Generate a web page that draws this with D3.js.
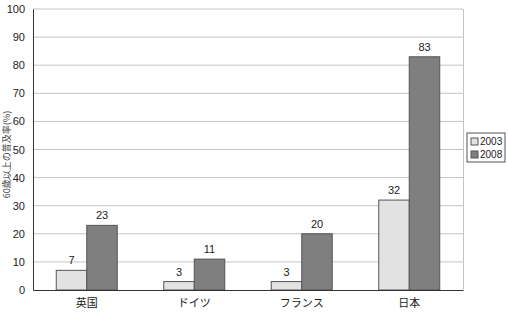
<!DOCTYPE html>
<html>
<head>
<meta charset="utf-8">
<script src="https://cdn.jsdelivr.net/npm/d3@7"></script>
<style>
  body { margin: 0; background: #fff; }
  text { font-family: "Liberation Sans", "Noto Sans CJK JP", sans-serif; }
</style>
</head>
<body>
<div id="chart"></div>
<script>
const categories = ["英国", "ドイツ", "フランス", "日本"];
const seriesNames = ["2003", "2008"];
const values2003 = [7, 3, 3, 32];
const values2008 = [23, 11, 20, 83];
const yTicks = [0, 10, 20, 30, 40, 50, 60, 70, 80, 90, 100];

const svgWidth = 508, svgHeight = 314;
const margin = { top: 9, right: 45, bottom: 24, left: 33 };
const width = svgWidth - margin.left - margin.right;
const height = svgHeight - margin.top - margin.bottom;
const colors = ["#e2e2e2", "#7f7f7f"];

const svg = d3.select("#chart").append("svg")
  .attr("width", svgWidth).attr("height", svgHeight);

const g = svg.append("g").attr("transform", `translate(${margin.left},${margin.top})`);

const x = d3.scaleBand().domain(categories).range([0, width]);
const x1 = d3.scaleBand().domain(seriesNames).range([0, 61]);
const y = d3.scaleLinear().domain([0, 100]).range([height, 0]);

// gridlines
g.selectAll(".grid").data(yTicks.slice(1)).join("line")
  .attr("x1", 0).attr("x2", width)
  .attr("y1", d => y(d)).attr("y2", d => y(d))
  .attr("stroke", "#c4c4c4").attr("stroke-width", 1);

// right border
g.append("line").attr("x1", width + 0.5).attr("x2", width + 0.5)
  .attr("y1", 0).attr("y2", height).attr("stroke", "#c4c4c4");

const rows = categories.map((c, i) => ({ cat: c, vals: [values2003[i], values2008[i]] }));

const groups = g.selectAll(".grp").data(rows).join("g")
  .attr("transform", d => `translate(${x(d.cat) + x.bandwidth() / 2 - 30.5},0)`);

groups.selectAll("rect").data(d => d.vals.map((v, j) => ({ v, s: seriesNames[j], j })))
  .join("rect")
  .attr("x", d => x1(d.s))
  .attr("width", x1.bandwidth())
  .attr("y", d => y(d.v))
  .attr("height", d => height - y(d.v))
  .attr("fill", d => colors[d.j])
  .attr("stroke", "#555").attr("stroke-width", 1);

groups.selectAll(".lbl").data(d => d.vals.map((v, j) => ({ v, s: seriesNames[j] })))
  .join("text")
  .attr("x", d => x1(d.s) + x1.bandwidth() / 2)
  .attr("y", d => y(d.v) - 6)
  .attr("text-anchor", "middle")
  .attr("font-size", 11).attr("fill", "#222")
  .text(d => d.v);

// axes
const yAxis = g.append("g").call(d3.axisLeft(y).tickValues(yTicks).tickSize(0).tickPadding(8));
yAxis.select(".domain").attr("stroke", "#333");
yAxis.selectAll("text").attr("font-size", 11).attr("fill", "#222");

const xAxis = g.append("g").attr("transform", `translate(0,${height})`)
  .call(d3.axisBottom(x).tickSize(0).tickPadding(9));
xAxis.select(".domain").attr("stroke", "#333");
xAxis.selectAll("text").attr("font-size", 11).attr("fill", "#222")
  .style("font-family", "'Noto Sans CJK JP', sans-serif");

// y title
svg.append("text")
  .attr("transform", `translate(10,${margin.top + height / 2 + 5}) rotate(-90)`)
  .attr("text-anchor", "middle")
  .attr("font-size", 9).attr("fill", "#444")
  .style("font-family", "'Noto Sans CJK JP', sans-serif")
  .text("60歳以上の普及率(%)");

// legend
const legend = svg.append("g").attr("transform", "translate(467,133)");
legend.append("rect").attr("width", 38).attr("height", 29)
  .attr("fill", "#fff").attr("stroke", "#555");
seriesNames.forEach((s, i) => {
  legend.append("rect").attr("x", 4).attr("y", 5 + i * 13)
    .attr("width", 7).attr("height", 7)
    .attr("fill", colors[i]).attr("stroke", "#555");
  legend.append("text").attr("x", 13).attr("y", 12 + i * 13)
    .attr("font-size", 10).attr("fill", "#222").text(s);
});
</script>
</body>
</html>
